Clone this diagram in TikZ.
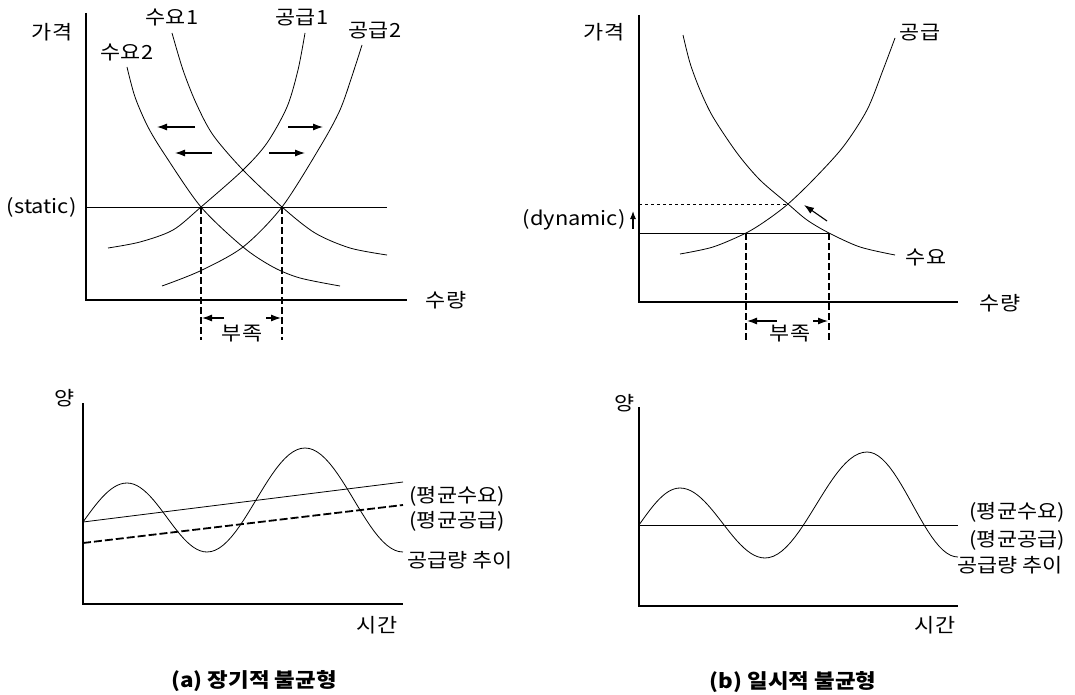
\documentclass[tikz,border=0pt]{standalone}
\usepackage{fontspec}
\setmainfont{Noto Sans CJK KR}[FakeStretch=1.12]
\usetikzlibrary{arrows.meta}

\begin{document}
\begin{tikzpicture}[x=1pt,y=-1pt,font=\fontsize{19.5}{22}\selectfont,
  axisline/.style={line width=1.4pt},
  curveline/.style={line width=0.8pt},
  gapline/.style={line width=1.8pt,dash pattern=on 7pt off 3pt},
  avgsupply/.style={line width=1.8pt,dash pattern=on 8pt off 3pt},
  movearrow/.style={line width=1.1pt,-{Latex[length=10pt,width=7pt]}}]
  \useasboundingbox (0,0) rectangle (1075,695);
  % (a) top: long-run shift of both curves
  \coordinate (Oa) at (86,300); \coordinate (Ya) at (86,13); \coordinate (Xa) at (407,300);
  \coordinate (E1) at (201,207); \coordinate (E2) at (282,207);
  \coordinate (F1) at (201,340); \coordinate (F2) at (282,340);
  \draw[axisline] (Ya) -- (Oa) -- (Xa);
  \draw[curveline] (86,207) -- (387,207);
  \draw[curveline] plot[smooth] coordinates {(172,33) (183,70) (196,103) (213,135) (243,170)
    (282,207) (315,233) (350,248) (387,255)};
  \draw[curveline] plot[smooth] coordinates {(127,67) (135,97) (148,127) (165,155) (201,207)
    (243,247) (273,267) (300,278) (340,286)};
  \draw[curveline] plot[smooth] coordinates {(108,248) (140,242) (173,230) (201,207) (243,170)
    (267,143) (287,107) (298,70) (305,33)};
  \draw[curveline] plot[smooth] coordinates {(162,286) (200,271) (243,247) (282,207) (320,147)
    (340,110) (353,73) (362,45)};
  \draw[gapline] (E1) -- (F1);
  \draw[gapline] (E2) -- (F2);
  \coordinate (La1) at (195,127); \coordinate (La2) at (157,127);
  \coordinate (Lb1) at (212,153); \coordinate (Lb2) at (175,153);
  \coordinate (Ra1) at (288,127); \coordinate (Ra2) at (323,127);
  \coordinate (Rb1) at (269,153); \coordinate (Rb2) at (305,153);
  \foreach \s/\t in {La1/La2,Lb1/Lb2,Ra1/Ra2,Rb1/Rb2}
    \draw[movearrow] (\s) -- (\t);
  \coordinate (Sa1) at (224,318); \coordinate (Sa2) at (202,318);
  \coordinate (Sb1) at (266,318); \coordinate (Sb2) at (281,318);
  \draw[movearrow] (Sa1) -- (Sa2);
  \draw[movearrow] (Sb1) -- (Sb2);
  \node (pa) at (52,32) {가격};
  \node (qa) at (446,300) {수량};
  \node[anchor=east] (sta) at (80,207) {(static)};
  \node (da1) at (172,18) {수요1};
  \node (da2) at (127,53) {수요2};
  \node (sa1) at (302,18) {공급1};
  \node (sa2) at (375,31) {공급2};
  \node (ka) at (242,334) {부족};

  % (b) top: temporary gap
  \coordinate (Ob) at (639,302); \coordinate (Yb) at (639,15); \coordinate (Xb) at (958,302);
  \coordinate (Eb) at (788,204); \coordinate (G1) at (746,233); \coordinate (G2) at (829,233);
  \coordinate (H1) at (746,340); \coordinate (H2) at (829,340);
  \draw[axisline] (Yb) -- (Ob) -- (Xb);
  \draw[curveline] plot[smooth] coordinates {(683,35) (690,63) (700,90) (713,117) (737,153)
    (760,180) (788,204) (807,220) (829,233) (860,247) (895,255)};
  \draw[curveline] plot[smooth] coordinates {(680,254) (713,247) (746,233) (767,220) (788,204)
    (813,180) (843,147) (867,110) (883,70) (895,38)};
  \draw[curveline,dashed] (639,204) -- (Eb);
  \draw[curveline] (639,233) -- (G2);
  \draw[gapline] (G1) -- (H1);
  \draw[gapline] (G2) -- (H2);
  \coordinate (Ta1) at (777,321); \coordinate (Ta2) at (747,321);
  \coordinate (Tb1) at (813,321); \coordinate (Tb2) at (828,321);
  \draw[movearrow] (Ta1) -- (Ta2);
  \draw[movearrow] (Tb1) -- (Tb2);
  \coordinate (Ua1) at (827,221); \coordinate (Ua2) at (804,205);
  \draw[movearrow] (Ua1) -- (Ua2);
  \coordinate (Va1) at (633,229); \coordinate (Va2) at (633,211);
  \draw[line width=1.1pt,-{Latex[length=8pt,width=6pt]}] (Va1) -- (Va2);
  \node (pb) at (604,32) {가격};
  \node (qb) at (1000,303) {수량};
  \node[anchor=east] (dyb) at (629,220) {(dynamic)};
  \node (sb) at (920,33) {공급};
  \node (db) at (926,258) {수요};
  \node (kb) at (790,334) {부족};

  % (a) bottom: trend of quantities
  \coordinate (Oc) at (83,604); \coordinate (Yc) at (83,403); \coordinate (Xc) at (403,604);
  \draw[axisline] (Yc) -- (Oc) -- (Xc);
  \draw[curveline] (83,522) -- (403,482);
  \draw[avgsupply] (83,543) -- (403,505);
  \draw[curveline] plot[domain=0:1,samples=15] ({83+44*\x},{522-39*sin(90*\x)});
  \foreach \xa/\ya/\xb/\yb in {127/483/207/552,207/552/305/448,305/448/403/552}
    \draw[curveline] plot[domain=0:1,samples=25]
      ({\xa+(\xb-\xa)*\x},{\ya+(\yb-\ya)*(1-cos(180*\x))/2});
  \node (vc) at (65,398) {양};
  \node (tc) at (377,625) {시간};
  \node[anchor=west] (mdc) at (406,496) {(평균수요)};
  \node[anchor=west] (msc) at (406,521) {(평균공급)};
  \node[anchor=west] (trc) at (404,560) {공급량 추이};

  % (b) bottom: trend of quantities
  \coordinate (Od) at (639,606); \coordinate (Yd) at (639,407); \coordinate (Xd) at (958,606);
  \draw[axisline] (Yd) -- (Od) -- (Xd);
  \draw[curveline] (639,525) -- (958,525);
  \draw[curveline] plot[domain=0:1,samples=15] ({639+41*\x},{525-37*sin(90*\x)});
  \foreach \xa/\ya/\xb/\yb in {680/488/765/558,765/558/867/452,867/452/958/557}
    \draw[curveline] plot[domain=0:1,samples=25]
      ({\xa+(\xb-\xa)*\x},{\ya+(\yb-\ya)*(1-cos(180*\x))/2});
  \node (vd) at (625,403) {양};
  \node (td) at (935,625) {시간};
  \node[anchor=west] (mdd) at (966,512) {(평균수요)};
  \node[anchor=west] (msd) at (966,540) {(평균공급)};
  \node[anchor=west] (trd) at (954,565) {공급량 추이};

  % captions
  \node[font=\fontsize{20}{22}\selectfont\bfseries] (capa) at (254,681) {(a) 장기적 불균형};
  \node[font=\fontsize{20}{22}\selectfont\bfseries] (capb) at (793,682) {(b) 일시적 불균형};
\end{tikzpicture}
\end{document}
